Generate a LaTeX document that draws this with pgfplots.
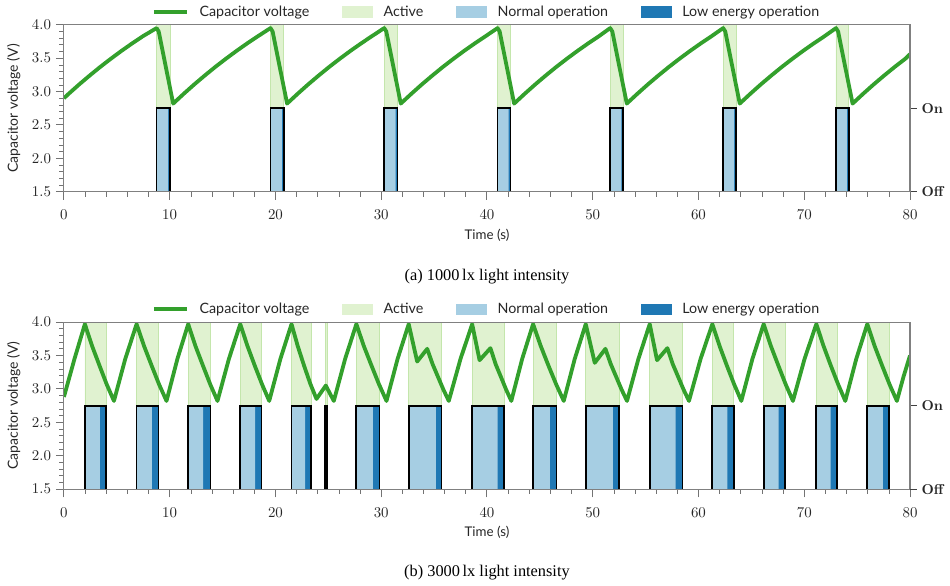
\documentclass[border=0pt]{standalone}
\usepackage{fontspec}
\setsansfont{Lato}
\newfontfamily\capfont{Liberation Serif}
\usepackage{pgfplots}
\usepackage{pgfplotstable}
\pgfplotsset{compat=1.18}

\definecolor{cv}{HTML}{33A02C}
\definecolor{normal}{HTML}{A6CEE3}
\definecolor{lowe}{HTML}{1F78B4}
\definecolor{act}{RGB}{224,242,208}
\definecolor{actedge}{RGB}{196,230,172}

% ---------- top (1000 lx) ----------
% act: active band (1.5 = off), on: outline (0 = off), fl: bar fill (1.5 = off)
\pgfplotstableread{
x act on fl
0 1.5 0 1.5
8.76 4 2.75 2.75
10.03 1.5 0 1.5
19.53 4 2.75 2.75
20.79 1.5 0 1.5
30.28 4 2.75 2.75
31.54 1.5 0 1.5
41.0 4 2.75 2.75
42.22 1.5 0 1.5
51.65 4 2.75 2.75
52.88 1.5 0 1.5
62.33 4 2.75 2.75
63.55 1.5 0 1.5
73.0 4 2.75 2.75
74.2 1.5 0 1.5
80 1.5 0 1.5
}\topsteps

\pgfplotstableread{
x y
0 1.5
8.76 2.75
9.85 1.5
19.53 2.75
20.61 1.5
30.28 2.75
31.36 1.5
41.0 2.75
42.04 1.5
51.65 2.75
52.70 1.5
62.33 2.75
63.37 1.5
73.0 2.75
74.02 1.5
80 1.5
}\toplight

\pgfplotstableread{
x y
0 2.9
0.45 2.967
1.45 3.108
2.45 3.242
3.45 3.371
4.45 3.493
5.45 3.61
6.45 3.721
7.45 3.827
8.76 3.95
8.96 3.9
10.33 2.82
11.33 2.967
12.33 3.108
13.33 3.242
14.33 3.371
15.33 3.493
16.33 3.61
17.33 3.721
18.33 3.827
19.53 3.95
19.73 3.9
21.1 2.82
22.1 2.967
23.1 3.108
24.1 3.242
25.1 3.371
26.1 3.493
27.1 3.61
28.1 3.721
29.1 3.827
30.28 3.95
30.48 3.9
31.85 2.82
32.85 2.967
33.85 3.108
34.85 3.242
35.85 3.371
36.85 3.493
37.85 3.61
38.85 3.721
39.85 3.827
41.0 3.95
41.2 3.9
42.57 2.82
43.57 2.967
44.57 3.108
45.57 3.242
46.57 3.371
47.57 3.493
48.57 3.61
49.57 3.721
50.57 3.827
51.65 3.95
51.85 3.9
53.22 2.82
54.22 2.967
55.22 3.108
56.22 3.242
57.22 3.371
58.22 3.493
59.22 3.61
60.22 3.721
61.22 3.827
62.33 3.95
62.53 3.9
63.9 2.82
64.9 2.967
65.9 3.108
66.9 3.242
67.9 3.371
68.9 3.493
69.9 3.61
70.9 3.721
71.9 3.827
73.0 3.95
73.2 3.9
74.57 2.82
75.57 2.967
76.57 3.108
77.57 3.242
78.57 3.371
79.57 3.493
80 3.56
}\topcurve

% ---------- bottom (3000 lx) ----------
\pgfplotstableread{
x act on fl
0 1.5 0 1.5
1.98 4 2.75 2.75
4.0 1.5 0 1.5
6.87 4 2.75 2.75
8.95 1.5 0 1.5
11.75 4 2.75 2.75
13.86 1.5 0 1.5
16.67 4 2.75 2.75
18.68 1.5 0 1.5
21.52 4 2.75 2.75
23.35 1.5 0 1.5
24.70 4 2.75 2.75
24.88 1.5 0 1.5
27.65 4 2.75 2.75
29.84 1.5 0 1.5
32.6 4 2.75 2.75
35.7 1.5 0 1.5
38.6 4 2.75 2.75
41.6 1.5 0 1.5
44.36 4 2.75 2.75
46.57 1.5 0 1.5
49.34 4 2.75 2.75
52.49 1.5 0 1.5
55.39 4 2.75 2.75
58.48 1.5 0 1.5
61.31 4 2.75 2.75
63.33 1.5 0 1.5
66.16 4 2.75 2.75
68.18 1.5 0 1.5
71.14 4 2.75 2.75
73.09 1.5 0 1.5
75.96 4 2.75 2.75
78.0 1.5 0 1.5
80 1.5 0 1.5
}\botsteps

\pgfplotstableread{
x y
0 1.5
1.98 2.75
3.4 1.5
6.87 2.75
8.32 1.5
11.75 2.75
13.17 1.5
16.67 2.75
18.08 1.5
21.52 2.75
22.81 1.5
27.65 2.75
29.2 1.5
32.6 2.75
35.16 1.5
38.6 2.75
41.0 1.5
44.36 2.75
45.94 1.5
49.34 2.75
51.9 1.5
55.39 2.75
57.84 1.5
61.31 2.75
62.73 1.5
66.16 2.75
67.58 1.5
71.14 2.75
72.5 1.5
75.96 2.75
77.44 1.5
80 1.5
}\botlight

\pgfplotstableread{
x y
0 2.88
1.0 3.45
1.98 3.97
2.67 3.64
3.36 3.35
4.04 3.07
4.73 2.82
5.8 3.45
6.87 3.97
7.58 3.64
8.29 3.35
8.99 3.07
9.7 2.82
10.73 3.45
11.75 3.97
12.44 3.64
13.14 3.35
13.83 3.07
14.52 2.82
15.6 3.45
16.67 3.97
17.36 3.64
18.04 3.35
18.73 3.07
19.41 2.82
20.47 3.45
21.52 3.97
22.11 3.64
22.7 3.35
23.29 3.08
23.88 2.85
24.76 3.05
25.52 2.82
26.59 3.45
27.65 3.97
28.36 3.64
29.08 3.35
29.79 3.07
30.5 2.82
31.55 3.45
32.6 3.97
33.4 3.41
34.35 3.60
34.86 3.37
35.37 3.18
35.88 2.99
36.39 2.82
37.5 3.45
38.6 3.97
39.3 3.43
40.33 3.61
40.82 3.37
41.32 3.18
41.81 2.99
42.3 2.82
43.33 3.45
44.36 3.97
45.09 3.64
45.81 3.35
46.54 3.07
47.26 2.82
48.3 3.45
49.34 3.97
50.19 3.39
51.2 3.60
51.71 3.37
52.22 3.18
52.73 2.99
53.24 2.82
54.32 3.45
55.39 3.97
56.08 3.43
57.06 3.61
57.57 3.37
58.08 3.18
58.59 2.99
59.1 2.82
60.2 3.45
61.31 3.97
62.0 3.64
62.68 3.35
63.37 3.07
64.05 2.82
65.1 3.45
66.16 3.97
66.85 3.64
67.55 3.35
68.24 3.07
68.93 2.82
70.03 3.45
71.14 3.97
71.83 3.64
72.51 3.35
73.2 3.07
73.88 2.82
74.92 3.45
75.96 3.97
76.66 3.64
77.36 3.35
78.06 3.07
78.76 2.82
79.38 3.18
80 3.5
}\botcurve

\pgfplotsset{
  mainax/.style={
    scale only axis, width=622pt, height=122.8pt,
    xmin=0, xmax=80, ymin=1.5, ymax=4.0,
    xtick={0,10,...,80}, minor x tick num=4,
    ytick={1.5,2,2.5,3,3.5,4}, minor y tick num=4,
    xtick pos=bottom, ytick pos=left,
    tick align=outside, axis on top,
    major tick length=6pt, minor tick length=3.5pt,
    axis line style={draw=black!50, line width=0.8pt},
    major tick style={black!55, line width=0.7pt},
    minor tick style={black!55, line width=0.5pt},
    yticklabel style={/pgf/number format/.cd, fixed, fixed zerofill, precision=1},
    xticklabel style={yshift=-4pt},
    tick label style={text=black!85, font=\fontsize{10.5}{12}\selectfont},
    xlabel={Time (s)}, ylabel={Capacitor voltage (V)},
    ylabel shift=1.5pt,
    xlabel style={font=\sffamily\fontsize{9.8}{12}\selectfont, text=black!85},
    ylabel style={font=\sffamily\fontsize{10.3}{12}\selectfont, text=black!85},
    legend columns=4,
    legend style={at={(0.5,1.077)}, anchor=center, draw=none, fill=none,
      font=\sffamily\fontsize{10.5}{12}\selectfont, text=black!85,
      /tikz/every odd column/.append style={column sep=6pt},
      /tikz/every even column/.append style={column sep=22pt}},
  },
  rightax/.style={
    scale only axis, width=622pt, height=122.8pt,
    xmin=0, xmax=80, ymin=1.5, ymax=4.0,
    axis x line=none, axis y line*=right,
    ytick={1.5,2.75}, yticklabels={\textbf{Off},\textbf{On}},
    tick align=outside, major tick length=5pt,
    axis line style={draw=black!50, line width=0.8pt},
    major tick style={black!75, line width=0.8pt},
    tick label style={text=black!85, font=\fontsize{10.5}{12}\selectfont},
  },
}

\begin{document}
\begin{tikzpicture}
\useasboundingbox (-47pt,-289.2pt) rectangle (651.4pt,141pt);
% ===== top =====
\begin{axis}[mainax, name=top, at={(0,0)}, anchor=south west]
\addlegendimage{legend image code/.code={\draw[cv,line width=2.8pt] (0cm,0cm) -- (0.85cm,0cm);}}
\addlegendentry{Capacitor voltage}
\addlegendimage{legend image code/.code={\fill[act] (0cm,-0.14cm) rectangle (0.78cm,0.14cm);}}
\addlegendentry{Active}
\addlegendimage{legend image code/.code={\fill[normal] (0cm,-0.14cm) rectangle (0.78cm,0.14cm);}}
\addlegendentry{Normal operation}
\addlegendimage{legend image code/.code={\fill[lowe] (0cm,-0.14cm) rectangle (0.78cm,0.14cm);}}
\addlegendentry{Low energy operation}
\addplot[forget plot, const plot, fill=act, draw=actedge, line width=0.5pt] table[x=x,y=act] {\topsteps};
\addplot[forget plot, const plot, fill=lowe, draw=none] table[x=x,y=fl] {\topsteps};
\addplot[forget plot, const plot, fill=normal, draw=none] table[x=x,y=y] {\toplight};
\addplot[forget plot, const plot, draw=black, line width=1.3pt] table[x=x,y=on] {\topsteps};
\addplot[forget plot, cv, line width=2.8pt, line join=round] table[x=x,y=y] {\topcurve};
\end{axis}
\begin{axis}[rightax, at={(0,0)}, anchor=south west]
\end{axis}
\node[font=\capfont\fontsize{12}{14}\selectfont] at ([yshift=-62.5pt]top.south) {(a) 1000\,lx light intensity};

% ===== bottom =====
\begin{axis}[mainax, name=bot, at={(0,-218.6pt)}, anchor=south west]
\addlegendimage{legend image code/.code={\draw[cv,line width=2.8pt] (0cm,0cm) -- (0.85cm,0cm);}}
\addlegendentry{Capacitor voltage}
\addlegendimage{legend image code/.code={\fill[act] (0cm,-0.14cm) rectangle (0.78cm,0.14cm);}}
\addlegendentry{Active}
\addlegendimage{legend image code/.code={\fill[normal] (0cm,-0.14cm) rectangle (0.78cm,0.14cm);}}
\addlegendentry{Normal operation}
\addlegendimage{legend image code/.code={\fill[lowe] (0cm,-0.14cm) rectangle (0.78cm,0.14cm);}}
\addlegendentry{Low energy operation}
\addplot[forget plot, const plot, fill=act, draw=actedge, line width=0.5pt] table[x=x,y=act] {\botsteps};
\addplot[forget plot, const plot, fill=lowe, draw=none] table[x=x,y=fl] {\botsteps};
\addplot[forget plot, const plot, fill=normal, draw=none] table[x=x,y=y] {\botlight};
\addplot[forget plot, const plot, draw=black, line width=1.3pt] table[x=x,y=on] {\botsteps};
\addplot[forget plot, cv, line width=2.8pt, line join=round] table[x=x,y=y] {\botcurve};
\end{axis}
\begin{axis}[rightax, at={(0,-218.6pt)}, anchor=south west]
\end{axis}
\node[font=\capfont\fontsize{12}{14}\selectfont] at ([yshift=-61pt]bot.south) {(b) 3000\,lx light intensity};
\end{tikzpicture}
\end{document}
